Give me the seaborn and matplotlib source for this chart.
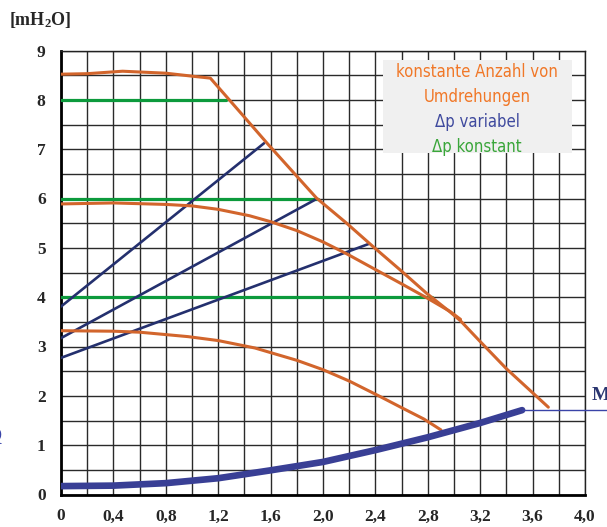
import matplotlib
matplotlib.use("Agg")
import matplotlib.pyplot as plt
import matplotlib.ticker as ticker
from matplotlib.patches import Rectangle
import seaborn as sns

# curves (flow, head in mH2O)
maxX = [0, 0.2, 0.47, 0.8, 1.0, 1.14, 1.39, 1.58, 1.95, 2.18, 2.38, 2.59, 2.79, 2.97, 3.05, 3.2, 3.4, 3.72]
maxY = [8.52, 8.53, 8.58, 8.54, 8.48, 8.44, 7.68, 7.1, 6.01, 5.5, 5.03, 4.55, 4.08, 3.7, 3.52, 3.1, 2.55, 1.77]
midX = [0, 0.4, 0.8, 1.0, 1.2, 1.44, 1.6, 1.8, 2.0, 2.18, 2.4, 2.6, 2.79, 2.97, 3.05]
midY = [5.89, 5.91, 5.88, 5.85, 5.78, 5.65, 5.53, 5.35, 5.12, 4.88, 4.56, 4.27, 3.99, 3.71, 3.55]
lowX = [0, 0.4, 0.6, 0.97, 1.2, 1.48, 1.8, 2.0, 2.2, 2.44, 2.6, 2.77, 2.9]
lowY = [3.32, 3.31, 3.29, 3.2, 3.12, 2.97, 2.72, 2.53, 2.3, 1.98, 1.76, 1.53, 1.31]

# delta-p variabel lines
dpvX = [[0, 1.55], [0, 1.95], [0, 2.35]]
dpvY = [[3.81, 7.12], [3.17, 5.99], [2.77, 5.08]]

# delta-p konstant lines
dpkLevels = [8, 6, 4]
dpkEnds = [1.26, 1.96, 2.83]

# system curve
sysX = [0, 0.4, 0.8, 1.2, 1.6, 2.0, 2.4, 2.8, 3.2, 3.52]
sysY = [0.17, 0.18, 0.23, 0.33, 0.49, 0.66, 0.9, 1.16, 1.45, 1.71]
markerX = [3.52, 4.4]

xTicks = [0, 0.4, 0.8, 1.2, 1.6, 2.0, 2.4, 2.8, 3.2, 3.6, 4.0]
xTickLabels = ["0", "0,4", "0,8", "1,2", "1,6", "2,0", "2,4", "2,8", "3,2", "3,6", "4,0"]
yTicks = list(range(10))

legendLines = ["konstante Anzahl von", "Umdrehungen", "Δp variabel", "Δp konstant"]

orange = "#d2652c"
navy = "#24306e"
thickBlue = "#393f95"
green = "#0c9a3c"

sns.set_style("white")
plt.rcParams["font.family"] = ["Liberation Serif", "DejaVu Serif"]
plt.rcParams["mathtext.fontset"] = "custom"
plt.rcParams["mathtext.rm"] = "Liberation Serif:bold"

fig = plt.figure(figsize=(6.07, 5.27), dpi=100)
W, H = 607, 527
ax = fig.add_axes([61 / W, (H - 494.5) / H, (585 - 61) / W, (494.5 - 50.5) / H])

ax.set_xlim(0, 4.0)
ax.set_ylim(0, 9)
ax.xaxis.set_minor_locator(ticker.MultipleLocator(0.2))
ax.yaxis.set_minor_locator(ticker.MultipleLocator(0.5))
ax.set_xticks(xTicks)
ax.set_xticklabels(xTickLabels)
ax.set_yticks(yTicks)
ax.grid(which="both", color="#2a2a2a", linewidth=1.0)
ax.set_axisbelow(True)
ax.tick_params(which="both", length=0, labelsize=12.5)
ax.tick_params(axis="x", pad=10)
ax.tick_params(axis="y", pad=11)
for lbl in ax.get_xticklabels() + ax.get_yticklabels():
    lbl.set_fontweight("bold")
for s in ax.spines.values():
    s.set_color("#222222")
    s.set_linewidth(1.0)
ax.spines["left"].set_linewidth(2.0)
ax.spines["bottom"].set_linewidth(2.0)
ax.spines["left"].set_color("black")
ax.spines["bottom"].set_color("black")

# legend box (drawn above the grid)
ax.add_patch(Rectangle((383 / W, (H - 153) / H), (572 - 383) / W, (153 - 60) / H,
                       transform=fig.transFigure, facecolor="#f0f0f0", edgecolor="none", zorder=2))
legendColors = ["#f07828", "#f07828", "#3f4a9e", "#3aa63a"]
legendY = [72, 97, 122, 147]
for txt, c, py in zip(legendLines, legendColors, legendY):
    fig.text(477 / W, (H - py) / H, txt, color=c, fontsize=12, ha="center", va="center",
             family="DejaVu Sans", stretch="condensed", zorder=3)

for lvl, xe in zip(dpkLevels, dpkEnds):
    sns.lineplot(x=[0, xe], y=[lvl, lvl], ax=ax, color=green, linewidth=2.3, sort=False, estimator=None, zorder=4)

for xs, ys in zip(dpvX, dpvY):
    sns.lineplot(x=xs, y=ys, ax=ax, color=navy, linewidth=1.9, sort=False, estimator=None, zorder=5)

for xs, ys in [(lowX, lowY), (midX, midY), (maxX, maxY)]:
    sns.lineplot(x=xs, y=ys, ax=ax, color=orange, linewidth=2.2, sort=False, estimator=None, zorder=6)

sns.lineplot(x=sysX, y=sysY, ax=ax, color=thickBlue, linewidth=4.8, sort=False, estimator=None, zorder=7)
sns.lineplot(x=markerX, y=[sysY[-1], sysY[-1]], ax=ax, color="#3a44a8", linewidth=1.0,
             sort=False, estimator=None, zorder=7)
ax.lines[-1].set_clip_on(False)

fig.text(40 / W, (H - 20) / H, r"$\mathrm{[mH_2O]}$", fontsize=13, ha="center", va="center")
# labels cut by the right and left picture edges, as in the original scan
fig.text(592 / W, (H - 396) / H, "M", fontsize=14, fontweight="bold", color="#2a3570", ha="left", va="center")
fig.text(1.5 / W, (H - 437) / H, "Q", fontsize=14, color="#3a44a8", ha="right", va="center")

fig.savefig("out.png", dpi=100)
